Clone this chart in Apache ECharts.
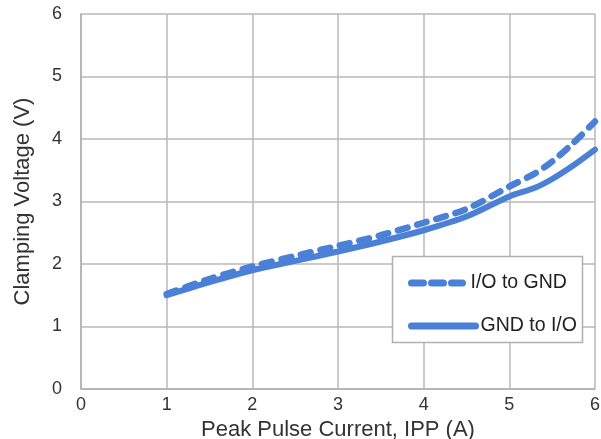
<!DOCTYPE html>
<html>
<head>
<meta charset="utf-8">
<script src="https://cdn.jsdelivr.net/npm/echarts@6/dist/echarts.min.js"></script>
<style>html,body{margin:0;padding:0;background:#fff}#c{width:601px;height:439px}</style>
</head>
<body>
<div id="c"></div>
<script>
var currents = [1, 1.5, 2, 2.5, 3, 3.5, 4, 4.5, 5, 5.3, 5.5, 5.75, 6];
var ioToGnd = [1.52, 1.76, 1.96, 2.13, 2.29, 2.46, 2.66, 2.88, 3.24, 3.45, 3.64, 3.94, 4.28];
var gndToIo = [1.5, 1.71, 1.9, 2.05, 2.2, 2.36, 2.54, 2.76, 3.08, 3.22, 3.36, 3.58, 3.83];
var seriesNames = ['I/O to GND', 'GND to I/O'];
var xTitle = 'Peak Pulse Current, IPP (A)';
var yTitle = 'Clamping Voltage (V)';

function pairs(xs, ys) { return xs.map(function (x, i) { return [x, ys[i]]; }); }

var blue = '#4a80d6';
var font = 'Liberation Sans, Arial, sans-serif';
var chart = echarts.init(document.getElementById('c'), null, {renderer: 'canvas'});
chart.setOption({
  animation: false,
  backgroundColor: '#fff',
  grid: {left: 81, right: 6, top: 14, bottom: 50, containLabel: false, outerBoundsMode: 'none'},
  xAxis: {
    type: 'value', min: 0, max: 6, interval: 1,
    name: xTitle, nameLocation: 'middle', nameGap: 24,
    nameTextStyle: {fontFamily: font, fontSize: 22, color: '#333'},
    axisLine: {show: true, lineStyle: {color: '#b0b0b0', width: 1.5}},
    axisTick: {show: false},
    axisLabel: {fontFamily: font, fontSize: 18, color: '#333', margin: 7},
    splitLine: {show: true, lineStyle: {color: '#b8b8b8', width: 1.5}}
  },
  yAxis: {
    type: 'value', min: 0, max: 6, interval: 1,
    name: yTitle, nameLocation: 'middle', nameGap: 47,
    nameTextStyle: {fontFamily: font, fontSize: 22, color: '#333'},
    axisLine: {show: true, lineStyle: {color: '#b0b0b0', width: 1.5}},
    axisTick: {show: false},
    axisLabel: {fontFamily: font, fontSize: 18, color: '#333', margin: 19},
    splitLine: {show: true, lineStyle: {color: '#b8b8b8', width: 1.5}}
  },
  graphic: [{
    type: 'rect', z: 5,
    shape: {x: 392.5, y: 256.5, width: 190, height: 86},
    style: {fill: '#fff', stroke: '#b0b0b0', lineWidth: 1.5}
  }],
  legend: [{
    data: [seriesNames[0]], left: 408, top: 273, padding: 0, itemWidth: 51, itemHeight: 20, z: 10,
    textStyle: {fontFamily: font, fontSize: 19.5, color: '#222', padding: [0, 0, 0, 3]},
    itemStyle: {opacity: 0},
    lineStyle: {width: 7, type: [12, 8], cap: 'round'}
  }, {
    data: [seriesNames[1]], left: 408, top: 316, padding: 0, itemWidth: 64, itemHeight: 20, z: 10,
    textStyle: {fontFamily: font, fontSize: 19.5, color: '#222'},
    itemStyle: {opacity: 0},
    lineStyle: {width: 7, cap: 'round'}
  }],
  series: [{
    name: seriesNames[0], type: 'line', data: pairs(currents, ioToGnd),
    smooth: 0.3, symbol: 'none', z: 3,
    lineStyle: {color: blue, width: 6.5, type: [10, 10], cap: 'round'},
    itemStyle: {color: blue}
  }, {
    name: seriesNames[1], type: 'line', data: pairs(currents, gndToIo),
    smooth: 0.3, symbol: 'none', z: 3,
    lineStyle: {color: blue, width: 6, cap: 'round'},
    itemStyle: {color: blue}
  }]
});
</script>
</body>
</html>
